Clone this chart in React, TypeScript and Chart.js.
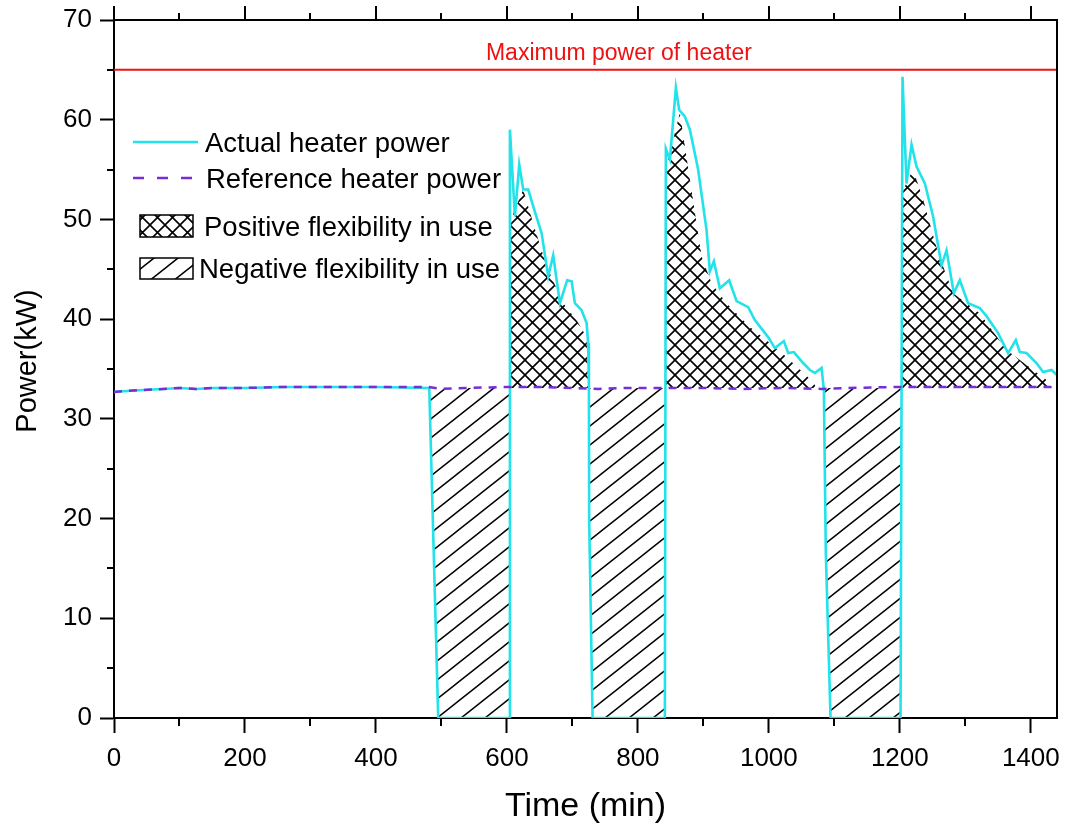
import React, { useEffect, useRef } from 'react';
import { Chart, registerables } from 'chart.js';

Chart.register(...registerables);

// ---------------- data ----------------
const refTime = [0, 20, 45, 75, 100, 125, 150, 200, 260, 320, 400, 480, 500, 540, 600, 650, 700, 740, 780, 840, 900, 960, 1020, 1080, 1120, 1200, 1260, 1320, 1380, 1440];
const refPower = [32.7, 32.8, 32.9, 33.0, 33.1, 33.0, 33.1, 33.1, 33.2, 33.2, 33.2, 33.2, 33.0, 33.1, 33.2, 33.2, 33.1, 33.0, 33.1, 33.1, 33.1, 33.0, 33.1, 33.0, 33.1, 33.2, 33.2, 33.2, 33.2, 33.2];

const actualTime = [0, 20, 45, 75, 100, 125, 150, 200, 260, 320, 400, 481.4, 495.1, 603.5, 604.6, 612.2, 618.8, 624.9, 632.5, 640.2, 653, 663, 670.7, 680.9, 692, 698.8, 703.8, 714, 721.7, 724.1, 725.2, 725.6, 730.8, 841.2, 842.7, 848.9, 858, 863, 871.8, 879.4, 892, 904.9, 909.9, 916, 925.2, 939.4, 950.7, 968.4, 978.6, 998.9, 1009.2, 1022.9, 1029.5, 1038.2, 1052.4, 1062.6, 1070.2, 1080.5, 1084, 1087, 1094.2, 1201.1, 1204.1, 1210.2, 1217.9, 1225.5, 1238.2, 1250.8, 1263.7, 1271.3, 1282.4, 1291.6, 1304.3, 1322.1, 1332.4, 1350.1, 1365.3, 1377.1, 1383.2, 1393.4, 1408.7, 1418.8, 1431.6, 1440];
const actualPower = [32.7, 32.8, 32.9, 33.0, 33.1, 33.0, 33.1, 33.1, 33.2, 33.2, 33.2, 33.1, 0, 0, 59.0, 50.3, 55.5, 53.0, 53.0, 51.3, 48.6, 44.3, 46.4, 41.6, 43.9, 43.8, 41.6, 40.9, 39.6, 37.6, 33.2, 19.9, 0, 0, 57.1, 56.0, 63.2, 61.0, 60.3, 59.0, 55.0, 48.9, 44.8, 45.8, 43.1, 43.9, 41.8, 41.2, 39.9, 38.2, 37.1, 37.8, 36.6, 36.7, 35.6, 34.9, 34.6, 35.1, 32.9, 16.5, 0, 0, 64.3, 53.6, 57.5, 55.3, 53.6, 50.3, 45.4, 46.9, 42.6, 43.9, 41.6, 41.1, 40.3, 38.6, 36.6, 37.9, 36.7, 36.6, 35.6, 34.7, 34.9, 34.4];

// boundary of the flexibility (hatched) areas
const flexTime = [470, 481.4, 495.1, 603.5, 604.6, 609.6, 624.9, 640.2, 660.6, 686, 706.4, 721.7, 724.1, 725.6, 730.8, 841.2, 842.7, 846.3, 864.1, 879.4, 897.2, 912.5, 935.4, 971, 1001.5, 1027, 1067.6, 1072.7, 1080.5, 1084, 1087, 1094.2, 1201.1, 1204.1, 1207.6, 1220.3, 1235.6, 1245.8, 1258.5, 1281.4, 1322.1, 1362.9, 1424, 1432, 1440];
const flexPower = [33.1, 33.1, 0, 0, 50.3, 50.6, 53.0, 49.6, 45.3, 41.6, 39.9, 38.2, 33.2, 19.9, 0, 0, 56.0, 56.0, 60.7, 54.0, 46.3, 43.6, 41.6, 39.2, 37.6, 36.2, 33.7, 33.1, 33.1, 32.9, 16.5, 0, 0, 53.3, 53.3, 55.0, 52.0, 49.6, 46.6, 42.6, 40.6, 36.9, 33.9, 33.1, 33.1];
const flexBase = 33.1;

const maxTime = [0, 1440];
const maxPower = [65, 65];
const maxLabel = 'Maximum power of heater';
const maxLabelAt = [771, 66.0];

const legendLabels = ['Actual heater power', 'Reference heater power', 'Positive flexibility in use', 'Negative flexibility in use'];
const xTitle = 'Time (min)';
const yTitle = 'Power(kW)';

const xMin = 0, xMax = 1440, xMinorStep = 100, xMajorStep = 200;
const yMin = 0, yMax = 70, yMinorStep = 5, yMajorStep = 10;

const CYAN = '#22E2EA';
const PURPLE = '#7A2CD6';
const RED = '#EE1111';
const FONT = '"Liberation Sans", Arial, sans-serif';

const pts = (xs: number[], ys: number[]) => xs.map((x, i) => ({ x, y: ys[i] }));

function makeCross(): CanvasPattern | string {
  const s = 15;
  const c = document.createElement('canvas');
  c.width = s; c.height = s;
  const g = c.getContext('2d');
  if (!g) return '#000';
  g.strokeStyle = '#000';
  g.lineWidth = 1.6;
  g.beginPath();
  g.moveTo(-2, -2); g.lineTo(s + 2, s + 2);
  g.moveTo(-2, s + 2); g.lineTo(s + 2, -2);
  g.stroke();
  return g.createPattern(c, 'repeat') as CanvasPattern;
}

function makeDiag(): CanvasPattern | string {
  const w = 24, h = 19;
  const c = document.createElement('canvas');
  c.width = w; c.height = h;
  const g = c.getContext('2d');
  if (!g) return '#000';
  g.strokeStyle = '#000';
  g.lineWidth = 1.5;
  g.beginPath();
  for (const dx of [-w, 0, w]) {
    g.moveTo(dx - w, 2 * h); g.lineTo(dx + 2 * w, -h);
  }
  g.stroke();
  return g.createPattern(c, 'repeat') as CanvasPattern;
}

export default function App() {
  const ref = useRef<HTMLCanvasElement | null>(null);

  useEffect(() => {
    if (!ref.current) return;
    const cross = makeCross();
    const diag = makeDiag();

    const decor = {
      id: 'decor',
      afterDraw(chart: any) {
        const { ctx, chartArea: a, scales } = chart;
        const x = scales.x, y = scales.y;
        ctx.save();
        ctx.strokeStyle = '#000';
        ctx.lineWidth = 2;
        ctx.beginPath();
        ctx.moveTo(a.left - 1, a.top);
        ctx.lineTo(a.right, a.top);
        ctx.lineTo(a.right, a.bottom + 1);
        // top ticks
        for (let v = xMin; v <= 1400; v += xMinorStep) {
          const px = Math.round(x.getPixelForValue(v));
          const len = v % xMajorStep === 0 ? 14 : 7;
          ctx.moveTo(px, a.top);
          ctx.lineTo(px, a.top - len);
        }
        // bottom minor ticks
        for (let v = xMinorStep; v < 1440; v += xMajorStep) {
          const px = Math.round(x.getPixelForValue(v));
          ctx.moveTo(px, a.bottom);
          ctx.lineTo(px, a.bottom + 8);
        }
        // left minor ticks
        for (let v = yMinorStep; v < yMax; v += yMajorStep) {
          const py = Math.round(y.getPixelForValue(v));
          ctx.moveTo(a.left, py);
          ctx.lineTo(a.left - 7, py);
        }
        ctx.stroke();

        // y axis title
        ctx.save();
        ctx.translate(28, 361);
        ctx.rotate(-Math.PI / 2);
        ctx.fillStyle = '#000';
        ctx.font = `29px ${FONT}`;
        ctx.textAlign = 'center';
        ctx.textBaseline = 'middle';
        ctx.fillText(yTitle, 0, 0);
        ctx.restore();

        // red annotation
        ctx.fillStyle = RED;
        ctx.font = `23px ${FONT}`;
        ctx.textAlign = 'center';
        ctx.textBaseline = 'alphabetic';
        ctx.fillText(maxLabel, x.getPixelForValue(maxLabelAt[0]), y.getPixelForValue(maxLabelAt[1]));

        // legend
        ctx.textAlign = 'left';
        ctx.fillStyle = '#000';
        ctx.font = `27.5px ${FONT}`;
        ctx.lineWidth = 2.5;
        ctx.strokeStyle = CYAN;
        ctx.beginPath(); ctx.moveTo(133, 142); ctx.lineTo(198, 142); ctx.stroke();
        ctx.fillText(legendLabels[0], 205, 152);

        ctx.strokeStyle = PURPLE;
        ctx.setLineDash([11, 13]);
        ctx.beginPath(); ctx.moveTo(133, 178); ctx.lineTo(198, 178); ctx.stroke();
        ctx.setLineDash([]);
        ctx.fillText(legendLabels[1], 206, 188);

        ctx.lineWidth = 1.5;
        ctx.strokeStyle = '#000';
        ctx.fillStyle = cross;
        ctx.fillRect(140, 215, 53, 22);
        ctx.strokeRect(140, 215, 53, 22);
        ctx.fillStyle = diag;
        ctx.fillRect(140, 258, 53, 21);
        ctx.strokeRect(140, 258, 53, 21);
        ctx.fillStyle = '#000';
        ctx.fillText(legendLabels[2], 204, 236);
        ctx.fillText(legendLabels[3], 199, 278);
        ctx.restore();
      },
    };

    const chart = new Chart(ref.current, {
      type: 'line',
      data: {
        datasets: [
          {
            label: 'Reference heater power',
            data: pts(refTime, refPower),
            borderColor: PURPLE,
            borderWidth: 2.5,
            borderDash: [8, 7],
            pointRadius: 0,
            fill: false,
            order: 0,
          },
          {
            label: 'Actual heater power',
            data: pts(actualTime, actualPower),
            borderColor: CYAN,
            borderWidth: 2.6,
            pointRadius: 0,
            fill: false,
            order: 1,
          },
          {
            label: 'Flexibility in use',
            data: pts(flexTime, flexPower),
            borderColor: 'rgba(0,0,0,0)',
            borderWidth: 0,
            pointRadius: 0,
            fill: { target: { value: flexBase }, above: cross, below: diag },
            order: 2,
          },
          {
            label: 'Maximum power of heater',
            data: pts(maxTime, maxPower),
            borderColor: RED,
            borderWidth: 2,
            pointRadius: 0,
            fill: false,
            order: 3,
          },
        ],
      },
      options: {
        animation: false,
        responsive: false,
        devicePixelRatio: 1,
        layout: { padding: { top: 20, right: 9, left: 0, bottom: 0 } },
        plugins: {
          legend: { display: false },
          tooltip: { enabled: false },
        },
        scales: {
          x: {
            type: 'linear',
            min: xMin,
            max: xMax,
            afterFit: (s: any) => { s.height = 109; s.paddingLeft = 0; s.paddingRight = 0; },
            border: { color: '#000', width: 2 },
            grid: {
              drawOnChartArea: false,
              tickLength: 15,
              tickWidth: 2,
              tickColor: (c: any) => (c.tick && c.tick.value % xMajorStep === 0 ? '#000' : 'rgba(0,0,0,0)'),
            },
            ticks: {
              stepSize: xMinorStep,
              includeBounds: false,
              autoSkip: false,
              maxRotation: 0,
              padding: 10,
              color: '#000',
              font: { family: FONT, size: 26 },
              callback: (v: any) => (Number(v) % xMajorStep === 0 ? String(v) : ''),
            },
            title: {
              display: true,
              text: xTitle,
              color: '#000',
              font: { family: FONT, size: 34 },
              padding: { top: 0, bottom: 0 },
            },
          },
          y: {
            type: 'linear',
            min: yMin,
            max: yMax,
            afterFit: (s: any) => { s.width = 114; s.paddingTop = 0; s.paddingBottom = 0; },
            border: { color: '#000', width: 2 },
            grid: {
              drawOnChartArea: false,
              tickLength: 14,
              tickWidth: 2,
              tickColor: (c: any) => (c.tick && c.tick.value % yMajorStep === 0 ? '#000' : 'rgba(0,0,0,0)'),
            },
            ticks: {
              stepSize: yMinorStep,
              autoSkip: false,
              padding: 8,
              color: '#000',
              font: { family: FONT, size: 26 },
              callback: (v: any) => (Number(v) % yMajorStep === 0 ? String(v) : ''),
            },
            title: { display: false },
          },
        },
      },
      plugins: [decor],
    } as any);

    return () => chart.destroy();
  }, []);

  return (
    <div style={{ position: 'absolute', left: 0, top: 0, width: 1066, height: 827, background: '#fff' }}>
      <canvas ref={ref} width={1066} height={827} style={{ width: 1066, height: 827, display: 'block' }} />
    </div>
  );
}
